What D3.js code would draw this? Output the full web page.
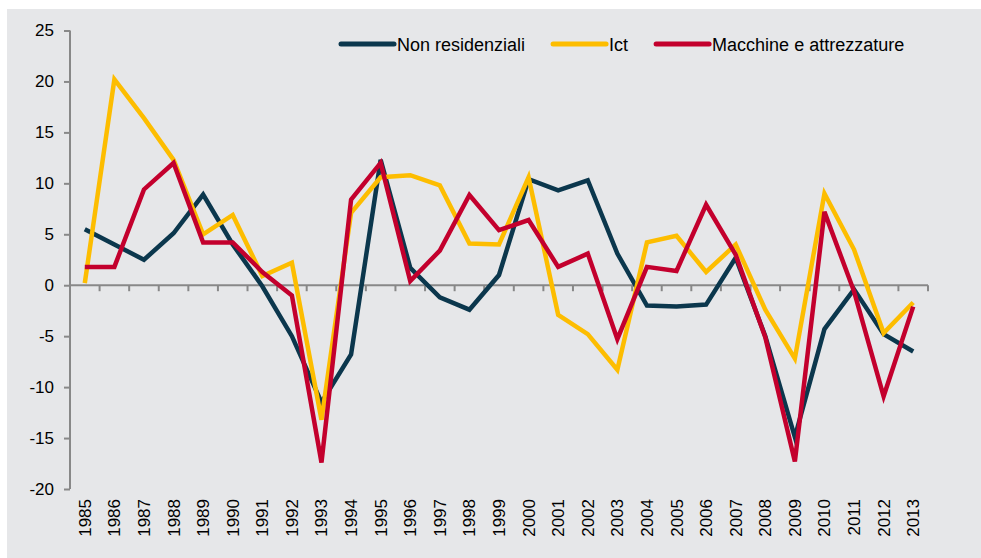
<!DOCTYPE html>
<html>
<head>
<meta charset="utf-8">
<script src="https://cdn.jsdelivr.net/npm/d3@7"></script>
<style>
  body { margin: 0; background: #fff; }
  text { font-family: "Liberation Sans", Arial, sans-serif; fill: #000; }
</style>
</head>
<body>
<div id="chart"></div>
<script>
var years = d3.range(1985, 2014);

var nonResidenziali = [5.5, 4.0, 2.5, 5.1, 8.9, 4.0, -0.1, -5.0, -11.5, -6.8, 12.3, 1.7, -1.2, -2.4, 1.0,
                       10.4, 9.3, 10.3, 3.1, -2.0, -2.1, -1.9, 2.7, -5.0, -14.9, -4.3, -0.4, -4.8, -6.5];
var ict = [0.2, 20.2, 16.4, 12.3, 5.0, 6.9, 0.9, 2.2, -13.2, 7.1, 10.6, 10.8, 9.8, 4.1, 4.0,
           10.6, -2.9, -4.8, -8.3, 4.2, 4.85, 1.3, 4.0, -2.4, -7.2, 9.0, 3.5, -4.7, -1.7];
var macchine = [1.8, 1.8, 9.4, 12.0, 4.2, 4.2, 1.3, -1.0, -17.4, 8.4, 12.0, 0.4, 3.4, 8.85, 5.4,
                6.4, 1.8, 3.1, -5.3, 1.8, 1.4, 7.9, 3.0, -5.1, -17.3, 7.2, -0.6, -10.9, -2.1];

var seriesNames = ["Non residenziali", "Ict", "Macchine e attrezzature"];
var seriesColors = ["#0b374d", "#fdbd00", "#c3002d"];
var yTicks = [25, 20, 15, 10, 5, 0, -5, -10, -15, -20];

var width = 981, height = 558;

var svg = d3.select("#chart").append("svg")
    .attr("width", width)
    .attr("height", height);

svg.append("rect")
    .attr("x", 7).attr("y", 9)
    .attr("width", width - 7).attr("height", height - 9)
    .attr("fill", "#e6e7e9");

var x = d3.scaleBand().domain(years).range([70, 928]);
var y = d3.scaleLinear().domain([-20, 25]).range([489, 30.5]);

var axisColor = "#888888";

// y axis
var yAxis = svg.append("g")
    .attr("transform", "translate(70,0)")
    .call(d3.axisLeft(y).tickValues(yTicks).tickSize(6).tickPadding(10)
        .tickFormat(function(d) { return String(d); }));
yAxis.select(".domain").attr("stroke", axisColor).attr("stroke-width", 2).attr("d", "M0," + y(25) + "V" + y(-20));
yAxis.selectAll(".tick line").attr("stroke", axisColor).attr("stroke-width", 2);
yAxis.selectAll(".tick text")
    .attr("font-size", 17)
    .style("font-family", "'Liberation Sans', Arial, sans-serif")
    .attr("fill", "#000");

// zero line with ticks between categories
svg.append("line")
    .attr("x1", 70).attr("x2", 928)
    .attr("y1", y(0)).attr("y2", y(0))
    .attr("stroke", axisColor).attr("stroke-width", 2);

svg.selectAll(".xtick")
    .data(years)
    .enter().append("line")
    .attr("class", "xtick")
    .attr("x1", function(d) { return x(d) + x.bandwidth(); })
    .attr("x2", function(d) { return x(d) + x.bandwidth(); })
    .attr("y1", y(0))
    .attr("y2", y(0) + 6)
    .attr("stroke", axisColor).attr("stroke-width", 2);

// year labels at the bottom
svg.selectAll(".xlabel")
    .data(years)
    .enter().append("text")
    .attr("class", "xlabel")
    .attr("transform", function(d) {
        return "translate(" + (x(d) + x.bandwidth() / 2 + 6) + ",499) rotate(-90)";
    })
    .attr("text-anchor", "end")
    .attr("font-size", 17)
    .text(function(d) { return d; });

// lines
var allSeries = [nonResidenziali, ict, macchine];
var line = d3.line()
    .x(function(d, i) { return x(years[i]) + x.bandwidth() / 2; })
    .y(function(d) { return y(d); });

svg.selectAll(".serie")
    .data(allSeries)
    .enter().append("path")
    .attr("class", "serie")
    .attr("d", line)
    .attr("fill", "none")
    .attr("stroke", function(d, i) { return seriesColors[i]; })
    .attr("stroke-width", 4.5)
    .attr("stroke-linejoin", "miter")
    .attr("stroke-linecap", "butt");

// legend
var legend = svg.append("g").attr("transform", "translate(0,44)");
var lx = 341;
seriesNames.forEach(function(name, i) {
    legend.append("line")
        .attr("x1", lx).attr("x2", lx + 53)
        .attr("y1", 0).attr("y2", 0)
        .attr("stroke", seriesColors[i])
        .attr("stroke-width", 5)
        .attr("stroke-linecap", "round");
    var t = legend.append("text")
        .attr("x", lx + 56)
        .attr("y", 6.5)
        .attr("font-size", 18)
        .text(name);
    lx = lx + 56 + t.node().getComputedTextLength() + 28;
});
</script>
</body>
</html>
